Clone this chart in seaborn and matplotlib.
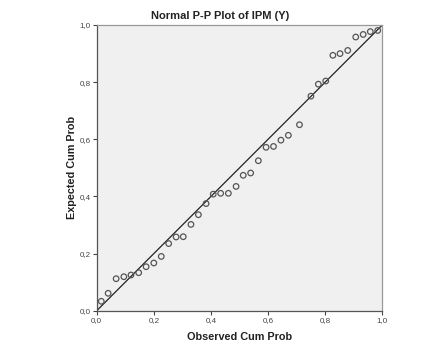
import matplotlib
matplotlib.use("Agg")
import matplotlib.pyplot as plt
import seaborn as sns
import pandas as pd
from matplotlib.ticker import FixedLocator, FuncFormatter

observed = [0.016, 0.040, 0.068, 0.095, 0.120, 0.147, 0.173, 0.200, 0.226, 0.252,
            0.278, 0.303, 0.330, 0.356, 0.383, 0.408, 0.434, 0.461, 0.488, 0.513,
            0.539, 0.566, 0.593, 0.619, 0.645, 0.671, 0.710, 0.750, 0.776, 0.802,
            0.827, 0.852, 0.879, 0.907, 0.933, 0.958, 0.984]
expected = [0.033, 0.061, 0.112, 0.119, 0.125, 0.133, 0.154, 0.167, 0.190, 0.235,
            0.258, 0.259, 0.302, 0.336, 0.375, 0.408, 0.411, 0.411, 0.435, 0.474,
            0.482, 0.525, 0.572, 0.575, 0.597, 0.614, 0.651, 0.751, 0.793, 0.804,
            0.894, 0.900, 0.911, 0.958, 0.967, 0.977, 0.981]
ticks = [0.0, 0.2, 0.4, 0.6, 0.8, 1.0]

title = "Normal P-P Plot of IPM (Y)"
xlabel = "Observed Cum Prob"
ylabel = "Expected Cum Prob"

df = pd.DataFrame({"Observed": observed, "Expected": expected})

sns.set_style("white")
plt.rcParams["font.family"] = ["Liberation Sans", "DejaVu Sans"]

fig = plt.figure(figsize=(4.41, 3.53), dpi=100)
ax = fig.add_axes([0.2193, 0.1198, 0.6476, 0.8093])
ax.set_facecolor("#f0f0f0")

ax.axline((0, 0), slope=1, color="#222222", linewidth=0.9, zorder=2)
sns.scatterplot(data=df, x="Observed", y="Expected", ax=ax, marker="o",
                s=16, facecolor="none", edgecolor="#555555", linewidth=0.9,
                zorder=3)

ax.set_xlim(0, 1)
ax.set_ylim(0, 1)
ax.xaxis.set_major_locator(FixedLocator(ticks))
ax.yaxis.set_major_locator(FixedLocator(ticks))
fmt = FuncFormatter(lambda v, p: f"{v:.1f}".replace(".", ","))
ax.xaxis.set_major_formatter(fmt)
ax.yaxis.set_major_formatter(fmt)
ax.tick_params(axis="both", which="major", direction="out", length=3, width=0.8,
               color="#444444", labelsize=5.8, labelcolor="#444444", pad=1.5,
               bottom=True, left=True)

for side, sp in ax.spines.items():
    sp.set_color("#555555")
    sp.set_linewidth(0.9)
ax.spines["top"].set_color("#999999")
ax.spines["right"].set_color("#999999")

ax.set_xlabel(xlabel, fontsize=7.8, fontweight="bold", color="#222222", labelpad=6)
ax.set_ylabel(ylabel, fontsize=7.8, fontweight="bold", color="#222222", labelpad=1.5)
fig.text(0.5, 0.955, title, ha="center", va="center", fontsize=8,
         fontweight="bold", color="#222222")

fig.savefig("out.png", dpi=100, facecolor="white")
